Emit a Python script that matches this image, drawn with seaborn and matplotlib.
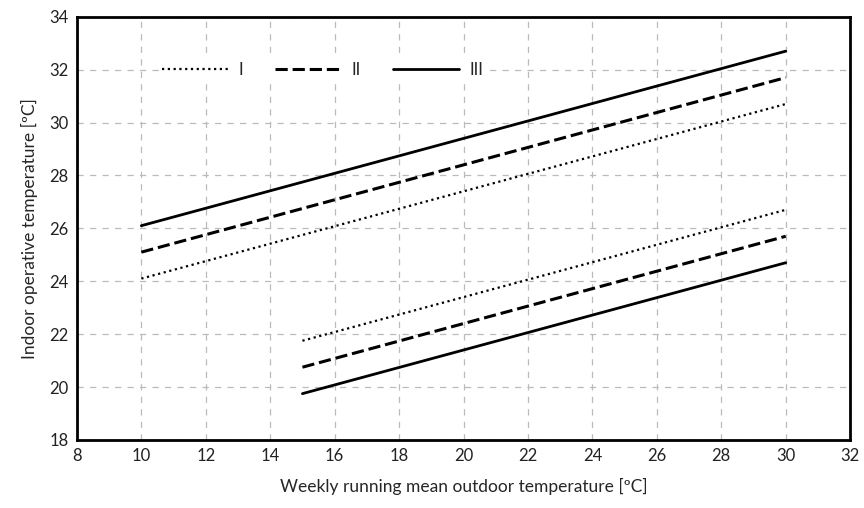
import matplotlib
matplotlib.use("Agg")
import matplotlib.pyplot as plt
import seaborn as sns
import pandas as pd

# Data (endpoints)
categories = ["I", "II", "III"]
upper_x = [10, 30]
upper_I = [24.1, 30.7]
upper_II = [25.1, 31.7]
upper_III = [26.1, 32.7]
lower_x = [15, 30]
lower_I = [21.75, 26.7]
lower_II = [20.75, 25.7]
lower_III = [19.75, 24.7]
x_ticks = [8, 10, 12, 14, 16, 18, 20, 22, 24, 26, 28, 30, 32]
y_ticks = [18, 20, 22, 24, 26, 28, 30, 32, 34]

rows = []
for cat, up, lo in zip(categories, [upper_I, upper_II, upper_III], [lower_I, lower_II, lower_III]):
    for x, y in zip(upper_x, up):
        rows.append({"x": x, "y": y, "cat": cat, "bound": "upper"})
    for x, y in zip(lower_x, lo):
        rows.append({"x": x, "y": y, "cat": cat, "bound": "lower"})
df = pd.DataFrame(rows)

sns.set_theme(style="white")
plt.rcParams["font.family"] = ["Lato", "DejaVu Sans"]

fig = plt.figure(figsize=(8.64, 5.08), dpi=100)
ax = fig.add_axes([0.089, 0.134, 0.895, 0.833])

styles = {"I": (0, (1, 1.6)), "II": (0, (4, 1.6)), "III": "-"}
widths = {"I": 1.6, "II": 2.2, "III": 2.0}
handles = {}
for cat in categories:
    for bound in ["upper", "lower"]:
        sub = df[(df.cat == cat) & (df.bound == bound)]
        sns.lineplot(data=sub, x="x", y="y", ax=ax, color="black",
                     linestyle=styles[cat], linewidth=widths[cat], legend=False)
        line = ax.lines[-1]
        handles[cat] = line

ax.set_xlim(8, 32)
ax.set_ylim(18, 34)
ax.set_xticks(x_ticks)
ax.set_yticks(y_ticks)
ax.grid(True, color="#bbbbbb", linestyle=(0, (5, 5)), linewidth=0.9)
for s in ax.spines.values():
    s.set_color("black")
    s.set_linewidth(2)
ax.tick_params(axis="both", length=0, labelsize=12, colors="#222222", pad=6)

ax.set_xlabel("Weekly running mean outdoor temperature [ºC]", fontsize=12.5, labelpad=10)
ax.set_ylabel("Indoor operative temperature [ºC]", fontsize=12.5, labelpad=8)

leg = ax.legend([handles[c] for c in categories], categories, loc="upper left",
                bbox_to_anchor=(0.095, 0.92), ncol=3, frameon=True, fontsize=12,
                handlelength=4, columnspacing=1.9, handletextpad=0.6,
                borderpad=0.2)
leg.get_frame().set_edgecolor("none")
leg.get_frame().set_facecolor("white")
leg.get_frame().set_alpha(1)

fig.savefig("out.png", dpi=100)
